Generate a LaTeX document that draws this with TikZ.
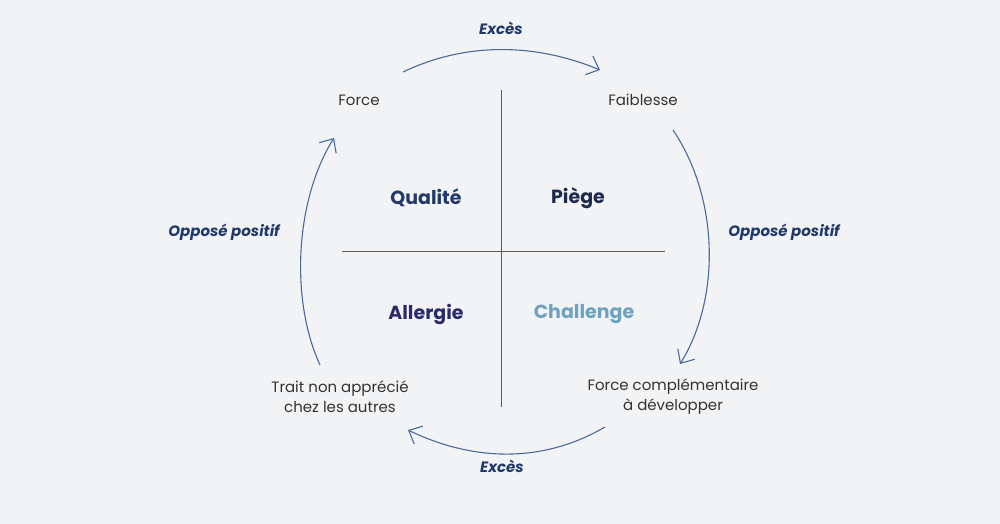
\documentclass[tikz,border=0pt]{standalone}
\usepackage{fontspec}
\setmainfont{Poppins}
\usetikzlibrary{arrows.meta}
\definecolor{bgray}{HTML}{F2F3F4}
\definecolor{navy}{HTML}{22396C}
\definecolor{deepnavy}{HTML}{1F2A4E}
\definecolor{indigo}{HTML}{2B2B6B}
\definecolor{skyteal}{HTML}{6FA2BF}
\definecolor{arcblue}{HTML}{4A6A9E}
\begin{document}
\begin{tikzpicture}
   [x=1pt, y=-1pt,
   term/.style={font=\fontsize{15}{20}\selectfont, text=black!80, align=center},
   quad/.style={font=\fontsize{19}{21}\selectfont\bfseries},
   anno/.style={font=\fontsize{15}{17}\selectfont\bfseries\itshape, text=navy},
   cycle/.style={draw=arcblue, line width=1.1pt, -{Straight Barb[length=11pt,width=20pt]}}]
\fill[bgray] (0,0) rectangle (1000,524);
\useasboundingbox (0,0) rectangle (1000,524);

% axes
\coordinate (vtop) at (501,90);
\coordinate (vbot) at (501,407);
\coordinate (hleft) at (342,251);
\coordinate (hright) at (665,251);
\draw[black!65, thick] (vtop) -- (vbot);
\draw[black!65, thick] (hleft) -- (hright);

% corner terms
\node[term] (force) at (359,100) {Force};
\node[term] (faiblesse) at (643,100) {Faiblesse};
\node[term] (trait) at (340,397) {Trait non apprécié\\chez les autres};
\node[term] (complement) at (673,397) {Force complémentaire\\à développer};

% quadrants
\node[quad, text=navy] (qualite) at (426,198) {Qualité};
\node[quad, text=deepnavy] (piege) at (578,198) {Piège};
\node[quad, text=indigo] (allergie) at (426,314) {Allergie};
\node[quad, text=skyteal] (challenge) at (584,314) {Challenge};

% cycle arrows
\coordinate (topA) at (403,72);
\coordinate (topB) at (600,70);
\coordinate (rightA) at (673,130);
\coordinate (rightB) at (680,364);
\coordinate (botA) at (605,427);
\coordinate (botB) at (408,430);
\coordinate (leftA) at (320,365);
\coordinate (leftB) at (334,138);
\draw[cycle] (topA) .. controls (470,40) and (540,45) .. (topB);
\draw[cycle] (rightA) .. controls (720,200) and (720,300) .. (rightB);
\draw[cycle] (botA) .. controls (540,465) and (470,460) .. (botB);
\draw[cycle] (leftA) .. controls (290,300) and (295,200) .. (leftB);

\node[anno] (excesTop) at (501,28) {Excès};
\node[anno] (oppLeft) at (224,232) {Opposé positif};
\node[anno] (oppRight) at (784,232) {Opposé positif};
\node[anno] (excesBot) at (502,466) {Excès};
\end{tikzpicture}
\end{document}
